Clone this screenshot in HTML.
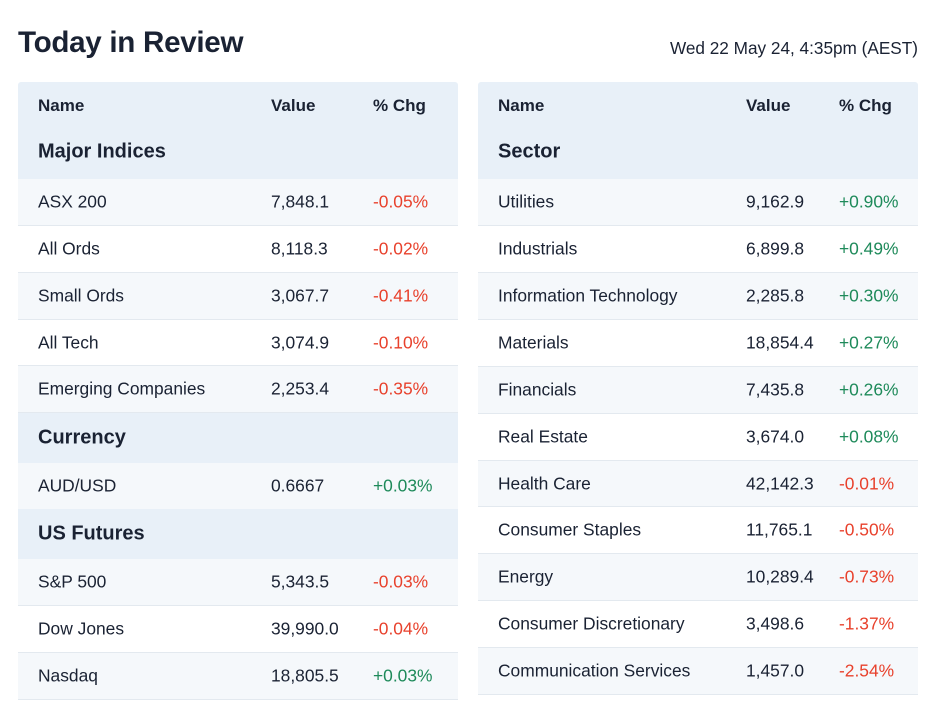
<!DOCTYPE html>
<html><head><meta charset="utf-8"><style>
*{margin:0;padding:0;box-sizing:border-box}
body{width:943px;height:726px;background:#fff;font-family:"Liberation Sans",sans-serif;color:#1a2233;position:relative;overflow:hidden}
.t{position:absolute;white-space:nowrap}
.title{left:18px;top:26px;font-size:29.6px;font-weight:bold;letter-spacing:-0.3px}
.date{right:25px;top:38px;font-size:17.2px}
.tbl{position:absolute;top:82px;width:440px}
.hd{position:absolute;left:0;width:440px;background:#e8f0f8;border-radius:3px 3px 0 0}
.row{position:absolute;left:0;width:440px;height:47px;border-bottom:1px solid #e3e9ef;font-size:17.4px}
.row.l{background:#f5f8fb}
.row.w{background:#fff}
.sec{position:absolute;left:0;width:440px;background:#e8f0f8;font-size:20px;font-weight:bold}
.row span,.sec span,.hd span{position:absolute;top:50%;transform:translateY(-50%)}
.r{color:#e8412c}.g{color:#1e8a5a}
.ch{font-size:17px;font-weight:bold}
</style></head><body>
<div class="t title">Today in Review</div>
<div class="t date">Wed 22 May 24, 4:35pm (AEST)</div>

<div class="tbl" style="left:18px">
 <div class="hd" style="top:0;height:97px">
  <span class="ch" style="left:20px;top:24px">Name</span>
  <span class="ch" style="left:253px;top:24px">Value</span>
  <span class="ch" style="left:355px;top:24px">% Chg</span>
  <span style="left:20px;top:70px;font-size:20px;font-weight:bold">Major Indices</span>
 </div>
 <div class="row l" style="top:97px"><span style="left:20px">ASX 200</span><span style="left:253px">7,848.1</span><span class="r" style="left:355px">-0.05%</span></div>
 <div class="row w" style="top:144px"><span style="left:20px">All Ords</span><span style="left:253px">8,118.3</span><span class="r" style="left:355px">-0.02%</span></div>
 <div class="row l" style="top:191px"><span style="left:20px">Small Ords</span><span style="left:253px">3,067.7</span><span class="r" style="left:355px">-0.41%</span></div>
 <div class="row w" style="top:238px;height:46px"><span style="left:20px">All Tech</span><span style="left:253px">3,074.9</span><span class="r" style="left:355px">-0.10%</span></div>
 <div class="row l" style="top:284px"><span style="left:20px">Emerging Companies</span><span style="left:253px">2,253.4</span><span class="r" style="left:355px">-0.35%</span></div>
 <div class="sec" style="top:331px;height:50px"><span style="left:20px">Currency</span></div>
 <div class="row l" style="top:381px;height:46px;border:0"><span style="left:20px">AUD/USD</span><span style="left:253px">0.6667</span><span class="g" style="left:355px">+0.03%</span></div>
 <div class="sec" style="top:427px;height:50px"><span style="left:20px">US Futures</span></div>
 <div class="row l" style="top:477px"><span style="left:20px">S&amp;P 500</span><span style="left:253px">5,343.5</span><span class="r" style="left:355px">-0.03%</span></div>
 <div class="row w" style="top:524px"><span style="left:20px">Dow Jones</span><span style="left:253px">39,990.0</span><span class="r" style="left:355px">-0.04%</span></div>
 <div class="row l" style="top:571px"><span style="left:20px">Nasdaq</span><span style="left:253px">18,805.5</span><span class="g" style="left:355px">+0.03%</span></div>
</div>

<div class="tbl" style="left:478px">
 <div class="hd" style="top:0;height:97px">
  <span class="ch" style="left:20px;top:24px">Name</span>
  <span class="ch" style="left:268px;top:24px">Value</span>
  <span class="ch" style="left:361px;top:24px">% Chg</span>
  <span style="left:20px;top:70px;font-size:20px;font-weight:bold">Sector</span>
 </div>
 <div class="row l" style="top:97px"><span style="left:20px">Utilities</span><span style="left:268px">9,162.9</span><span class="g" style="left:361px">+0.90%</span></div>
 <div class="row w" style="top:144px"><span style="left:20px">Industrials</span><span style="left:268px">6,899.8</span><span class="g" style="left:361px">+0.49%</span></div>
 <div class="row l" style="top:191px"><span style="left:20px">Information Technology</span><span style="left:268px">2,285.8</span><span class="g" style="left:361px">+0.30%</span></div>
 <div class="row w" style="top:238px"><span style="left:20px">Materials</span><span style="left:268px">18,854.4</span><span class="g" style="left:361px">+0.27%</span></div>
 <div class="row l" style="top:285px"><span style="left:20px">Financials</span><span style="left:268px">7,435.8</span><span class="g" style="left:361px">+0.26%</span></div>
 <div class="row w" style="top:332px"><span style="left:20px">Real Estate</span><span style="left:268px">3,674.0</span><span class="g" style="left:361px">+0.08%</span></div>
 <div class="row l" style="top:379px;height:46px"><span style="left:20px">Health Care</span><span style="left:268px">42,142.3</span><span class="r" style="left:361px">-0.01%</span></div>
 <div class="row w" style="top:425px"><span style="left:20px">Consumer Staples</span><span style="left:268px">11,765.1</span><span class="r" style="left:361px">-0.50%</span></div>
 <div class="row l" style="top:472px"><span style="left:20px">Energy</span><span style="left:268px">10,289.4</span><span class="r" style="left:361px">-0.73%</span></div>
 <div class="row w" style="top:519px"><span style="left:20px">Consumer Discretionary</span><span style="left:268px">3,498.6</span><span class="r" style="left:361px">-1.37%</span></div>
 <div class="row l" style="top:566px"><span style="left:20px">Communication Services</span><span style="left:268px">1,457.0</span><span class="r" style="left:361px">-2.54%</span></div>
</div>
</body></html>
